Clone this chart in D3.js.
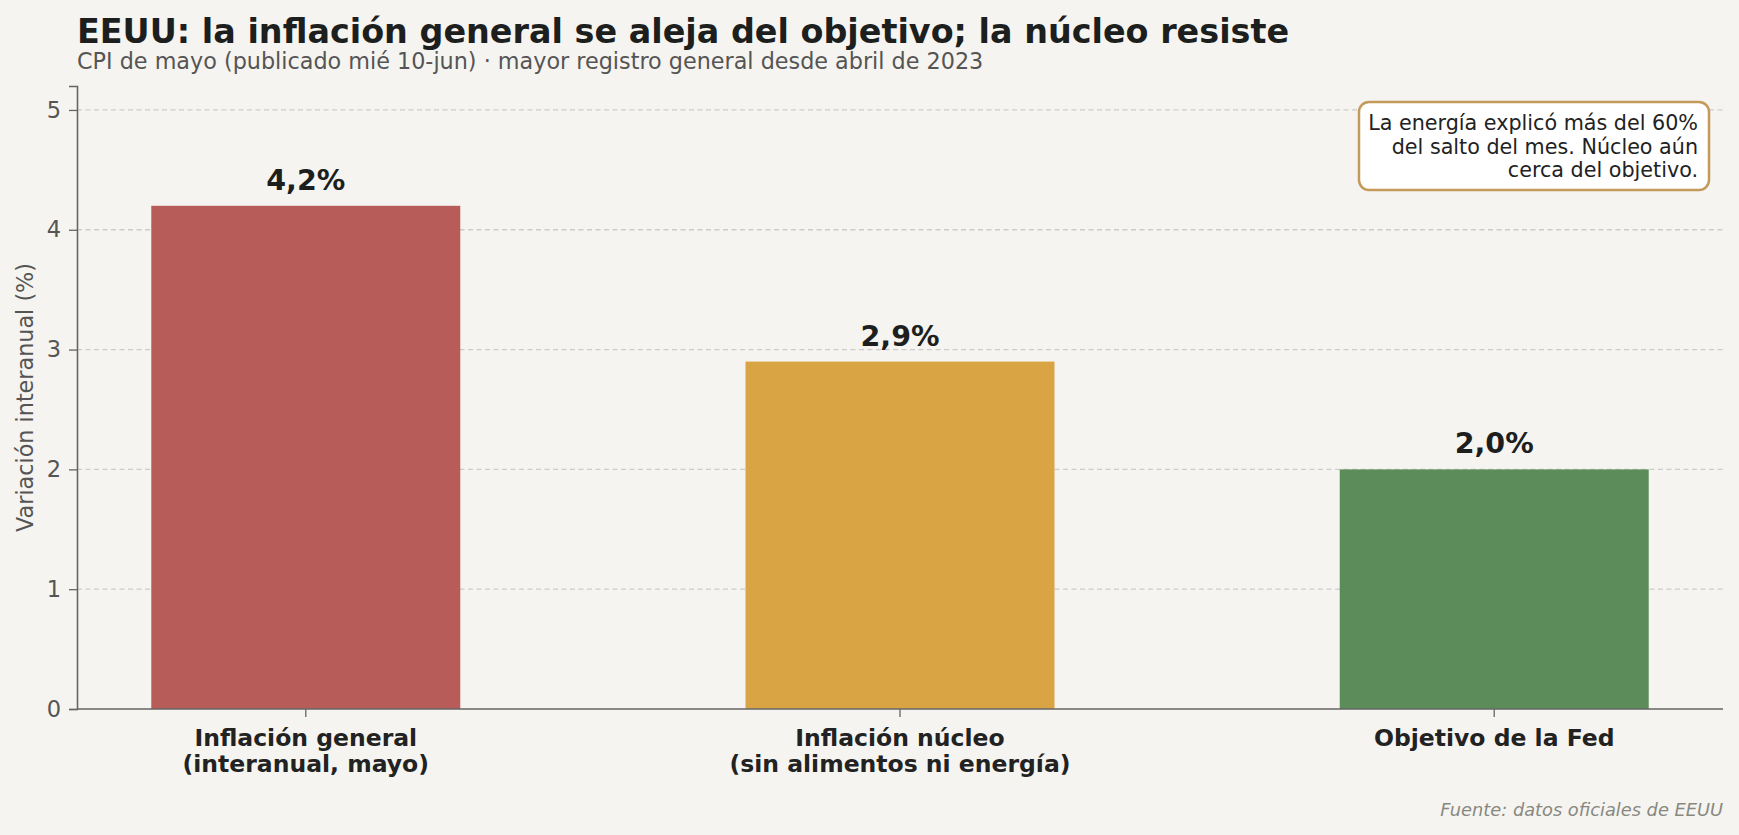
<!DOCTYPE html>
<html>
<head>
<meta charset="utf-8">
<script src="https://cdn.jsdelivr.net/npm/d3@7"></script>
<style>
  html, body { margin: 0; padding: 0; background: #f5f4f0; }
  svg { display: block; font-family: "DejaVu Sans", sans-serif; }
</style>
</head>
<body>
<svg id="chart" width="1739" height="835"></svg>
<script>
// Data
const categories = ["general", "nucleo", "objetivo"];
const categoryLabels = [
    ["Inflación general", "(interanual, mayo)"],
    ["Inflación núcleo", "(sin alimentos ni energía)"],
    ["Objetivo de la Fed"]
];
const values = [4.2, 2.9, 2.0];
const valueLabels = ["4,2%", "2,9%", "2,0%"];
const barColors = ["#b85c5a", "#d9a443", "#5c8c5a"];
const yTicks = [0, 1, 2, 3, 4, 5];
const noteLines = [
    "La energía explicó más del 60%",
    "del salto del mes. Núcleo aún",
    "cerca del objetivo."
];

const svg = d3.select("#chart");
const width = +svg.attr("width");
const height = +svg.attr("height");

const margin = { top: 86, right: 16, bottom: 126, left: 77 };
const plotLeft = margin.left;
const plotRight = width - margin.right;
const plotTop = margin.top;
const plotBottom = height - margin.bottom;

svg.append("rect")
    .attr("width", width)
    .attr("height", height)
    .attr("fill", "#f5f4f0");

// Scales
const x = d3.scaleBand()
    .domain(categories)
    .range([plotLeft, plotRight])
    .paddingInner(0.48)
    .paddingOuter(0.125);

const y = d3.scaleLinear()
    .domain([0, 5.2])
    .range([plotBottom, plotTop]);

// Grid lines (dashed)
svg.append("g")
    .selectAll("line")
    .data(yTicks.filter(d => d > 0))
    .enter()
    .append("line")
    .attr("x1", plotLeft)
    .attr("x2", plotRight)
    .attr("y1", d => y(d))
    .attr("y2", d => y(d))
    .attr("stroke", "#cccccc")
    .attr("stroke-width", 1.3)
    .attr("stroke-dasharray", "5,3.5");

// Bars
svg.append("g")
    .selectAll("rect")
    .data(values)
    .enter()
    .append("rect")
    .attr("x", (d, i) => x(categories[i]))
    .attr("y", d => y(d))
    .attr("width", x.bandwidth())
    .attr("height", d => y(0) - y(d))
    .attr("fill", (d, i) => barColors[i]);

// Value labels above bars
svg.append("g")
    .selectAll("text")
    .data(values)
    .enter()
    .append("text")
    .attr("x", (d, i) => x(categories[i]) + x.bandwidth() / 2)
    .attr("y", d => y(d) - 16)
    .attr("text-anchor", "middle")
    .attr("font-size", 28.5)
    .attr("font-weight", "bold")
    .attr("fill", "#1c1f1d")
    .text((d, i) => valueLabels[i]);

// Y axis
const yAxis = svg.append("g")
    .attr("transform", `translate(${plotLeft},0)`)
    .call(d3.axisLeft(y).tickValues(yTicks).tickSize(8).tickPadding(8).tickFormat(d3.format("d")));
yAxis.select(".domain").attr("stroke", "#666666").attr("stroke-width", 1.6);
yAxis.selectAll(".tick line").attr("stroke", "#666666").attr("stroke-width", 1.3);
yAxis.selectAll(".tick text")
    .attr("font-size", 22.5)
    .attr("font-family", "DejaVu Sans")
    .attr("fill", "#555555");

// X axis
const xAxis = svg.append("g")
    .attr("transform", `translate(0,${plotBottom})`)
    .call(d3.axisBottom(x).tickSize(8).tickFormat(""));
xAxis.select(".domain").attr("stroke", "#666666").attr("stroke-width", 1.6)
    .attr("d", `M${plotLeft},0H${plotRight}`);
xAxis.selectAll(".tick line").attr("stroke", "#666666").attr("stroke-width", 1.3);

// Multi-line category labels
const catLabel = svg.append("g")
    .selectAll("text")
    .data(categoryLabels)
    .enter()
    .append("text")
    .attr("x", (d, i) => x(categories[i]) + x.bandwidth() / 2)
    .attr("y", plotBottom + 37)
    .attr("text-anchor", "middle")
    .attr("font-size", 23.5)
    .attr("font-weight", "bold")
    .attr("fill", "#222222");
catLabel.selectAll("tspan")
    .data(d => d)
    .enter()
    .append("tspan")
    .attr("x", function () { return d3.select(this.parentNode).attr("x"); })
    .attr("dy", (d, i) => i === 0 ? 0 : 26)
    .text(d => d);

// Y axis title
svg.append("text")
    .attr("transform", `translate(33,${(plotTop + plotBottom) / 2}) rotate(-90)`)
    .attr("text-anchor", "middle")
    .attr("font-size", 22.3)
    .attr("fill", "#555555")
    .text("Variación interanual (%)");

// Title and subtitle
svg.append("text")
    .attr("x", 77)
    .attr("y", 43)
    .attr("font-size", 33.4)
    .attr("font-weight", "bold")
    .attr("fill", "#1c1f1d")
    .text("EEUU: la inflación general se aleja del objetivo; la núcleo resiste");

svg.append("text")
    .attr("x", 77)
    .attr("y", 69)
    .attr("font-size", 22.3)
    .attr("fill", "#555555")
    .text("CPI de mayo (publicado mié 10-jun) · mayor registro general desde abril de 2023");

// Annotation box
const noteBox = svg.append("g");
noteBox.append("rect")
    .attr("x", 1359)
    .attr("y", 102)
    .attr("width", 350)
    .attr("height", 88)
    .attr("rx", 10)
    .attr("fill", "#ffffff")
    .attr("stroke", "#c49a5a")
    .attr("stroke-width", 2.5);
noteBox.selectAll("text")
    .data(noteLines)
    .enter()
    .append("text")
    .attr("x", 1698)
    .attr("y", (d, i) => 130 + i * 23.5)
    .attr("text-anchor", "end")
    .attr("font-size", 20.7)
    .attr("fill", "#222222")
    .text(d => d);

// Source
svg.append("text")
    .attr("x", plotRight)
    .attr("y", 816)
    .attr("text-anchor", "end")
    .attr("font-size", 17.8)
    .attr("font-style", "italic")
    .attr("fill", "#888880")
    .text("Fuente: datos oficiales de EEUU");
</script>
</body>
</html>
